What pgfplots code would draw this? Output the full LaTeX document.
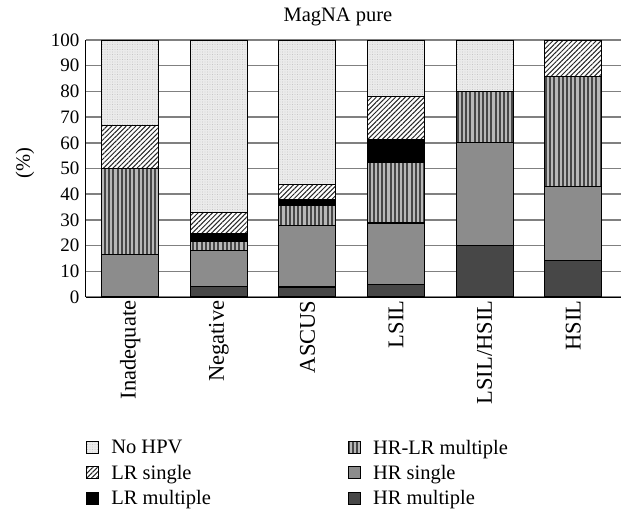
\documentclass[border=0pt]{standalone}
\usepackage{fontspec}
\setmainfont{Liberation Serif}
\usepackage{pgfplots}
\usepackage{pgfplotstable}
\pgfplotsset{compat=1.18}
\usetikzlibrary{patterns.meta}

% stacked shares (%) per cytology group, bottom to top
\pgfplotstableread{
x  hrm   hrs   hrlr  lrm  lrs   nohpv
0  0     16.7  33.3  0    16.7  33.3
1  4.2   14.0  3.6   2.9  8.2   67.1
2  3.9   23.8  7.8   2.6  5.8   56.1
3  4.8   24.0  23.4  9.1  16.6  22.1
4  20    40    20    0    0     20
5  14.3  28.6  42.9  0    14.2  0
}\magna

\newcommand\bigf{\fontsize{20.5}{24}\selectfont}

\tikzset{
  nohpv/.style={fill=black!8, draw=black, line width=1.1pt,
    postaction={pattern={Dots[distance=2.5pt, radius=0.45pt]}, pattern color=black!30}},
  lrs/.style={fill=white, draw=black, line width=1.1pt,
    postaction={pattern={Lines[angle=45, distance=3.4pt, line width=1pt]}, pattern color=black!85}},
  lrm/.style={fill=black, draw=black, line width=1.1pt},
  hrlr/.style={fill=black!28, draw=black, line width=1.1pt,
    postaction={pattern={Lines[angle=90, distance=4.2pt, line width=2pt]}, pattern color=black!72}},
  hrs/.style={fill=black!45, draw=black, line width=1.1pt},
  hrm/.style={fill=black!72, draw=black, line width=1.1pt},
}

\begin{document}
\begin{tikzpicture}
\begin{axis}[
  ybar stacked,
  scale only axis,
  width=535pt, height=257pt,
  bar width=57pt,
  xmin=-0.5, xmax=5.54,
  ymin=0, ymax=100,
  ytick={0,10,...,100},
  xtick={0,...,5},
  xticklabels={Inadequate,Negative,ASCUS,LSIL,LSIL/HSIL,HSIL},
  x tick label style={rotate=90, anchor=east, font=\fontsize{22.5}{26}\selectfont},
  y tick label style={font=\fontsize{19}{22}\selectfont, xshift=-3pt},
  /pgf/number format/assume math mode=true,
  major tick length=0pt,
  axis x line*=bottom, axis y line*=left,
  axis line style={-, line width=1pt},
  ymajorgrids,
  grid style={black!50, line width=1.5pt},
  title={MagNA pure},
  title style={font=\bigf, at={(axis description cs:0.471,1)}, anchor=base, yshift=13pt},
  ylabel={(\%)},
  every axis y label/.style={at={(axis description cs:-0.114,0.521)}, rotate=90, anchor=center, font=\bigf},
  legend columns=2,
  legend cell align=left,
  legend image code/.code={\draw[#1] (0pt,-6pt) rectangle (12pt,6pt);},
  legend style={draw=none, fill=none, inner sep=0pt, font=\bigf,
    at={(axis description cs:0,-0.551)}, anchor=north west,
    nodes={inner sep=1pt},
    /tikz/every odd column/.append style={column sep=11pt},
    /tikz/every even column/.append style={column sep=136pt},
    row sep=7.5pt},
]
\addplot[hrm, forget plot]  table[x=x, y=hrm]   {\magna};
\addplot[hrs, forget plot]  table[x=x, y=hrs]   {\magna};
\addplot[hrlr, forget plot] table[x=x, y=hrlr]  {\magna};
\addplot[lrm, forget plot]  table[x=x, y=lrm]   {\magna};
\addplot[lrs, forget plot]  table[x=x, y=lrs]   {\magna};
\addplot[nohpv, forget plot] table[x=x, y=nohpv] {\magna};

\addlegendimage{nohpv}\addlegendentry{No HPV}
\addlegendimage{hrlr}\addlegendentry{HR-LR multiple}
\addlegendimage{lrs}\addlegendentry{LR single}
\addlegendimage{hrs}\addlegendentry{HR single}
\addlegendimage{lrm}\addlegendentry{LR multiple}
\addlegendimage{hrm}\addlegendentry{HR multiple}

\coordinate (sw) at (rel axis cs:0,0);
\end{axis}
\pgfresetboundingbox
\path ([shift={(-86pt,297pt)}]sw) rectangle ([shift={(535pt,-215pt)}]sw);
\end{tikzpicture}
\end{document}
